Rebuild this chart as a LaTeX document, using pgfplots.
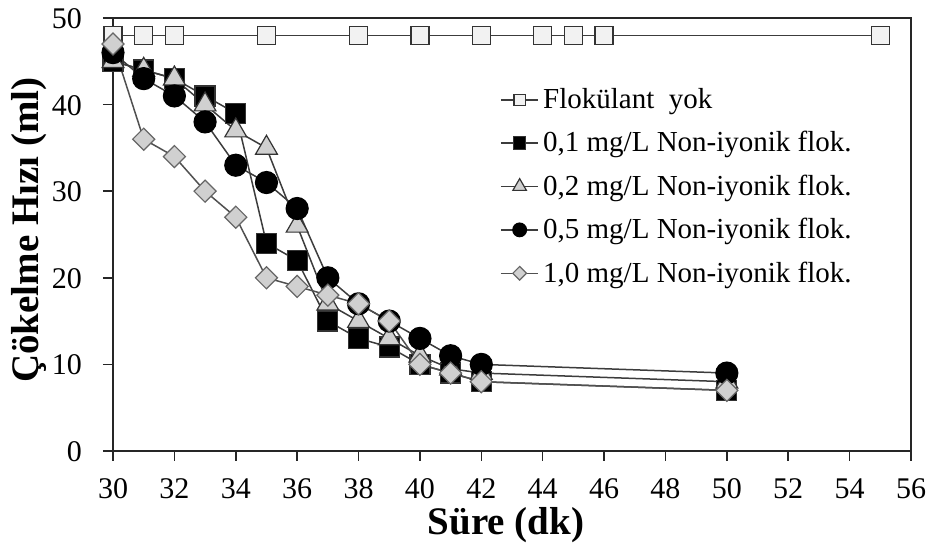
\documentclass[border=0pt]{standalone}
\usepackage{fontspec}
\setmainfont{Liberation Serif}
\usepackage{pgfplots}
\pgfplotsset{compat=1.18}

\definecolor{mkgray}{HTML}{D0D0D0}
\definecolor{mkwhite}{HTML}{F2F2F2}
\definecolor{lngray}{HTML}{3C3C3C}

\begin{document}
\begin{tikzpicture}
\useasboundingbox (-56.5pt,-47pt) rectangle (409pt,225.5pt);
\begin{axis}[
  scale only axis,
  width=399pt, height=216.5pt,
  xmin=30, xmax=56, ymin=0, ymax=50,
  xtick={30,32,...,56}, ytick={0,10,...,50},
  tick align=outside, tick pos=left,
  major tick length=5pt,
  axis line style={line width=0.8pt, black!85},
  tick style={line width=0.8pt, black!85},
  /pgf/number format/assume math mode=true,
  tick label style={font=\fontsize{15}{18}\selectfont},
  xticklabel style={text height=10.5pt, text depth=0pt, inner ysep=1pt, yshift=-7pt},
  yticklabel style={text height=10.5pt, text depth=0pt},
  yticklabel shift=7pt,
  xlabel={\textbf{Süre (dk)}},
  ylabel={\textbf{Çökelme Hızı (ml)}},
  label style={font=\fontsize{19.5}{23}\selectfont},
  xlabel style={at={(axis description cs:0.4925,-0.172)}, anchor=center, inner ysep=1pt},
  ylabel style={at={(axis description cs:-0.105,0.51)}, anchor=center},
  legend style={at={(axis cs:42.6,42.4)}, anchor=north west, draw=none, fill=none,
    font=\fontsize{14.5}{17}\selectfont, row sep=6pt, inner sep=0pt},
  legend cell align=left,
  legend image code/.code={\draw[mark repeat=2,mark phase=2,every mark/.append style={scale=0.62}] plot coordinates {(0cm,0cm) (0.33cm,0cm) (0.66cm,0cm)};},
  every axis plot/.append style={line width=0.75pt},
]
\addplot[lngray, mark=square*, mark size=4.5pt, mark options={fill=mkwhite, draw=black!80, line width=0.6pt}] coordinates
  {(30,48)(31,48)(32,48)(35,48)(38,48)(40,48)(42,48)(44,48)(45,48)(46,48)(55,48)};
\addlegendentry{Flokülant\ \ yok}
\addplot[lngray, mark=square*, mark size=5pt, mark options={fill=black, draw=black!80, line width=0.6pt}] coordinates
  {(30,45)(31,44)(32,43)(33,41)(34,39)(35,24)(36,22)(37,15)(38,13)(39,12)(40,10)(41,9)(42,8)(50,7)};
\addlegendentry{0,1 mg/L Non-iyonik flok.}
\addplot[lngray, mark=triangle*, mark size=6.3pt, mark options={fill=mkgray, draw=black!80, line width=0.6pt}] coordinates
  {(30,45)(31,44)(32,43)(33,40)(34,37)(35,35)(36,26)(37,17)(38,15)(39,13)(40,11)(41,9.5)(42,9)(50,8)};
\addlegendentry{0,2 mg/L Non-iyonik flok.}
\addplot[lngray, mark=*, mark size=5.5pt, mark options={fill=black, draw=black, line width=0.6pt}] coordinates
  {(30,46)(31,43)(32,41)(33,38)(34,33)(35,31)(36,28)(37,20)(38,17)(39,15)(40,13)(41,11)(42,10)(50,9)};
\addlegendentry{0,5 mg/L Non-iyonik flok.}
\addplot[lngray!90, mark=square*, mark size=3.9pt, mark options={rotate=45, fill=mkgray, draw=black!60, line width=0.6pt}] coordinates
  {(30,47)(31,36)(32,34)(33,30)(34,27)(35,20)(36,19)(37,18)(38,17)(39,15)(40,10)(41,9)(42,8)(50,7)};
\addlegendentry{1,0 mg/L Non-iyonik flok.}
\end{axis}
\end{tikzpicture}
\end{document}
